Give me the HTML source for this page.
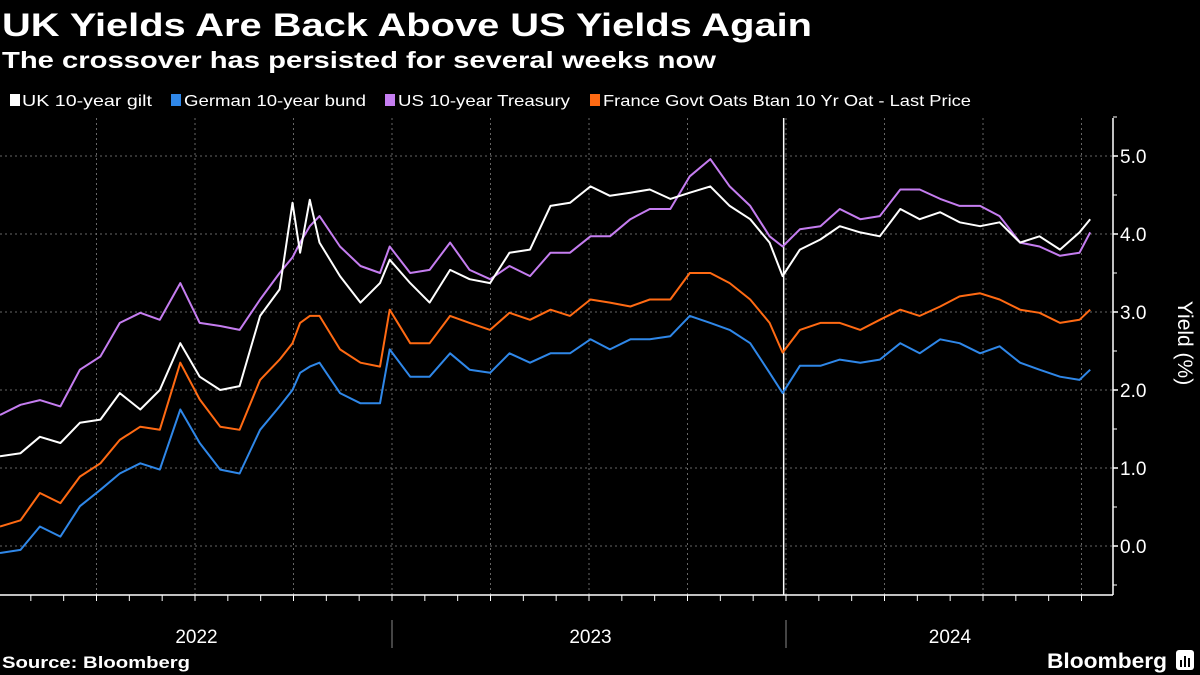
<!DOCTYPE html>
<html><head><meta charset="utf-8"><style>
html,body{margin:0;padding:0;background:#000;}
svg{display:block;font-family:"Liberation Sans",sans-serif;}
</style></head><body>
<svg id="chart" width="1200" height="675" viewBox="0 0 1200 675" xmlns="http://www.w3.org/2000/svg">
<rect width="1200" height="675" fill="#000"/>
<text x="2" y="36" fill="#fff" font-size="32" font-weight="bold" textLength="810" lengthAdjust="spacingAndGlyphs">UK Yields Are Back Above US Yields Again</text>
<text x="2" y="68" fill="#fff" font-size="23" font-weight="bold" textLength="714" lengthAdjust="spacingAndGlyphs">The crossover has persisted for several weeks now</text>
<g font-size="16" fill="#fff">
<g><rect x="10" y="94" width="10" height="12" fill="#fff"/><text x="22" y="106" textLength="130" lengthAdjust="spacingAndGlyphs">UK 10-year gilt</text></g>
<g><rect x="171" y="94" width="10" height="12" fill="#2f87e8"/><text x="184" y="106" textLength="182" lengthAdjust="spacingAndGlyphs">German 10-year bund</text></g>
<g><rect x="385" y="94" width="10" height="12" fill="#c57df0"/><text x="398" y="106" textLength="172" lengthAdjust="spacingAndGlyphs">US 10-year Treasury</text></g>
<g><rect x="590" y="94" width="10" height="12" fill="#ff6a13"/><text x="603" y="106" textLength="368" lengthAdjust="spacingAndGlyphs">France Govt Oats Btan 10 Yr Oat - Last Price</text></g>
</g>
<g id="grid"></g>
<g id="axes"></g>
<g id="series"></g>
<text x="2" y="668" fill="#fff" font-size="17" font-weight="bold" textLength="188" lengthAdjust="spacingAndGlyphs">Source: Bloomberg</text>
<text x="1047" y="668" fill="#fff" font-size="21" font-weight="bold" textLength="120" lengthAdjust="spacingAndGlyphs">Bloomberg</text>
<g><rect x="1176" y="650" width="18" height="20" rx="3" fill="#fff"/><rect x="1180" y="660" width="2" height="7" fill="#000"/><rect x="1184" y="656" width="2" height="11" fill="#000"/><rect x="1188" y="658" width="2" height="9" fill="#000"/></g>
</svg>
<script>
const days = [0,19,37,56,74,93,111,130,148,167,185,204,222,241,259,271,278,287,296,315,334,352,361,380,398,417,435,454,472,491,510,528,547,565,584,602,621,639,658,676,695,713,725,741,760,778,797,815,834,852,871,889,908,926,945,963,982,1000,1010];
const ukGilt = [1.15,1.19,1.40,1.32,1.58,1.62,1.96,1.75,2.00,2.60,2.17,2.00,2.05,2.95,3.29,4.40,3.76,4.44,3.89,3.46,3.12,3.37,3.67,3.37,3.12,3.54,3.42,3.37,3.76,3.80,4.36,4.40,4.61,4.49,4.53,4.57,4.45,4.53,4.61,4.36,4.19,3.89,3.46,3.80,3.93,4.10,4.02,3.97,4.32,4.19,4.28,4.15,4.10,4.15,3.89,3.97,3.80,4.02,4.19];
const germanBund = [-0.09,-0.05,0.25,0.12,0.51,0.72,0.93,1.06,0.98,1.75,1.32,0.98,0.93,1.49,1.79,2.00,2.22,2.30,2.35,1.96,1.83,1.83,2.52,2.17,2.17,2.47,2.26,2.22,2.47,2.35,2.47,2.47,2.65,2.52,2.65,2.65,2.69,2.95,2.86,2.77,2.60,2.22,1.96,2.31,2.31,2.39,2.35,2.39,2.60,2.47,2.65,2.60,2.47,2.56,2.35,2.26,2.17,2.13,2.26];
const usTreasury = [1.68,1.81,1.87,1.79,2.26,2.43,2.86,2.99,2.90,3.37,2.86,2.82,2.77,3.16,3.50,3.70,3.89,4.10,4.23,3.84,3.59,3.50,3.84,3.50,3.54,3.89,3.54,3.42,3.59,3.46,3.76,3.76,3.97,3.97,4.19,4.32,4.32,4.74,4.96,4.61,4.36,3.97,3.84,4.06,4.10,4.32,4.19,4.23,4.57,4.57,4.45,4.36,4.36,4.23,3.89,3.84,3.72,3.76,4.02];
const franceOat = [0.25,0.33,0.68,0.55,0.89,1.06,1.36,1.53,1.49,2.35,1.88,1.53,1.49,2.13,2.39,2.60,2.86,2.95,2.95,2.52,2.35,2.30,3.03,2.60,2.60,2.95,2.86,2.77,2.99,2.90,3.03,2.95,3.16,3.12,3.07,3.16,3.16,3.50,3.50,3.37,3.16,2.86,2.48,2.77,2.86,2.86,2.77,2.90,3.03,2.95,3.07,3.20,3.24,3.16,3.03,2.99,2.86,2.90,3.03];
const yTicks = [0,1,2,3,4,5];
const yTickLabels = ["0.0","1.0","2.0","3.0","4.0","5.0"];
const yearLabels = ["2022","2023","2024"];
const yearLabelDays = [182,547,880];
const highlightDay = 726;

const NS = "http://www.w3.org/2000/svg";
const xScale = d => d * 394 / 365;
const yScale = v => 546 - 78 * v;
const PLOT_R = 1113, PLOT_T = 118, PLOT_B = 595;
function mk(tag, attrs, parent){const e=document.createElementNS(NS,tag);for(const k in attrs)e.setAttribute(k,attrs[k]);parent.appendChild(e);return e;}
const grid=document.getElementById('grid'), axes=document.getElementById('axes'), series=document.getElementById('series');

yTicks.forEach((t,i)=>{
  const y=yScale(t);
  const g=mk('line',{x1:0,x2:PLOT_R,y1:y,y2:y,stroke:'#666','stroke-width':1,'stroke-dasharray':'2,3'},grid);
  
  
  const tk=mk('line',{x1:PLOT_R,x2:PLOT_R+5,y1:y,y2:y,stroke:'#fff','stroke-width':1.5},axes);
  
  
  const lb=mk('text',{x:PLOT_R+7,y:y+7,fill:'#fff','font-size':19},axes);
  lb.textContent=yTickLabels[i];
  
  
});
for(let v=-0.5; v<=5.5; v+=1){
  const y=yScale(v);
  const tk=mk('line',{x1:PLOT_R,x2:PLOT_R+4,y1:y,y2:y,stroke:'#fff','stroke-width':1},axes);
  
  
}
for(let q=1;q<=11;q++){
  const x=xScale(q*365/4)-2;
  const g=mk('line',{x1:x,x2:x,y1:PLOT_T,y2:PLOT_B,stroke:'#666','stroke-width':1,'stroke-dasharray':'2,3'},grid);
  
  
}
for(let m=0;m<=34;m++){
  const x=xScale(m*365/12)-2;
  if(x>PLOT_R)break;
  const tk=mk('line',{x1:x,x2:x,y1:PLOT_B,y2:PLOT_B+6,stroke:'#fff','stroke-width':1},axes);
  
  
}
[1,2].forEach(yr=>{
  const x=xScale(yr*365)-2;
  const s=mk('line',{x1:x,x2:x,y1:620,y2:648,stroke:'#888','stroke-width':1},axes);
  
  
});
yearLabels.forEach((l,i)=>{
  const t=mk('text',{x:xScale(yearLabelDays[i]),y:643,fill:'#fff','font-size':19,'text-anchor':'middle'},axes);
  t.textContent=l;
  
  
});
const xa=mk('line',{x1:0,x2:PLOT_R,y1:PLOT_B,y2:PLOT_B,stroke:'#fff','stroke-width':1.5},axes);


const ya=mk('line',{x1:PLOT_R,x2:PLOT_R,y1:PLOT_T,y2:PLOT_B,stroke:'#fff','stroke-width':1.5},axes);


const yt=mk('text',{x:0,y:0,fill:'#fff','font-size':21,'text-anchor':'middle',transform:'translate(1178,343) rotate(90)'},axes);
yt.textContent='Yield (%)';


const hx=xScale(highlightDay);
const hl=mk('line',{x1:hx,x2:hx,y1:PLOT_T,y2:PLOT_B,stroke:'#fff','stroke-width':1.5},axes);



function drawLine(vals,color,name){
  const d=vals.map((v,i)=>(i?'L':'M')+xScale(days[i]).toFixed(1)+','+yScale(v).toFixed(1)).join('');
  const p=mk('path',{d:d,fill:'none',stroke:color,'stroke-width':2,'stroke-linejoin':'round'},series);
  
  
}
drawLine(germanBund,'#2f87e8','line-german-bund');
drawLine(franceOat,'#ff6a13','line-france-oat');
drawLine(usTreasury,'#c57df0','line-us-treasury');
drawLine(ukGilt,'#ffffff','line-uk-gilt');
</script>
</body></html>
